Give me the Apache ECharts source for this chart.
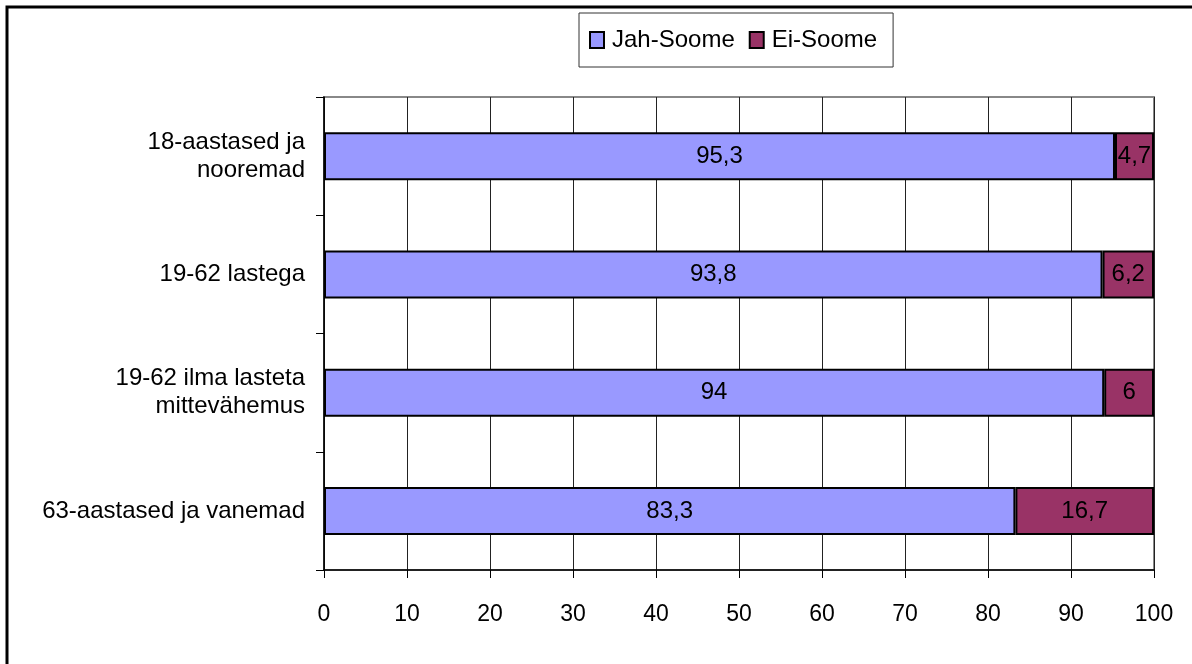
<!DOCTYPE html>
<html>
<head>
<meta charset="utf-8">
<script src="https://cdn.jsdelivr.net/npm/echarts@6/dist/echarts.min.js"></script>
<style>
  html, body { margin: 0; padding: 0; background: #fff; }
  #chart { width: 1192px; height: 664px; }
</style>
</head>
<body>
<div id="chart"></div>
<script>
// categories listed bottom to top
var categories = [
  "63-aastased ja vanemad",
  "19-62 ilma lasteta\nmittevähemus",
  "19-62 lastega",
  "18-aastased ja\nnooremad"
];
var jahSoome = [83.3, 94, 93.8, 95.3];
var eiSoome = [16.7, 6, 6.2, 4.7];
var seriesNames = ["Jah-Soome", "Ei-Soome"];

var myChart = echarts.init(document.getElementById("chart"));

// decimal comma, as in the original
var fmt = function (p) {
  return String(p.value).replace(".", ",");
};

var option = {
  backgroundColor: "#fff",
  textStyle: { fontFamily: "Liberation Sans, Arial, sans-serif" },
  graphic: [
    {
      type: "rect",
      shape: { x: 7, y: 7, width: 1200, height: 700 },
      style: { fill: "none", stroke: "#000", lineWidth: 3 },
      z: 100
    }
  ],
  legend: {
    left: 579,
    top: 13,
    padding: [15, 16, 15, 10],
    icon: "rect",
    itemWidth: 14,
    itemHeight: 16,
    itemGap: 14,
    borderColor: "#333",
    borderWidth: 1,
    textStyle: { fontSize: 24, color: "#000", padding: [0, 0, 0, 3] },
    data: seriesNames
  },
  grid: {
    left: 324,
    right: 38,
    top: 97,
    bottom: 94,
    show: true,
    borderColor: "#888",
    borderWidth: 2
  },
  xAxis: {
    type: "value",
    min: 0,
    max: 100,
    interval: 10,
    axisLine: { show: true, lineStyle: { color: "#000", width: 1.5 } },
    axisTick: { show: true, length: 8, lineStyle: { color: "#000" } },
    axisLabel: { fontSize: 23, color: "#000", margin: 33 },
    splitLine: { show: true, lineStyle: { color: "#222", width: 1 } }
  },
  yAxis: {
    type: "category",
    data: categories,
    axisLine: { show: true, lineStyle: { color: "#000", width: 1.5 } },
    axisTick: { show: true, length: 8, lineStyle: { color: "#000" } },
    axisLabel: { fontSize: 24, color: "#000", margin: 19, align: "right", lineHeight: 28 },
    splitLine: { show: false }
  },
  series: [
    {
      name: seriesNames[0],
      type: "bar",
      stack: "total",
      barWidth: 48,
      data: jahSoome,
      itemStyle: { color: "#9999FF", borderColor: "#000", borderWidth: 2 },
      label: { show: true, position: "inside", color: "#000", fontSize: 24, formatter: fmt }
    },
    {
      name: seriesNames[1],
      type: "bar",
      stack: "total",
      barWidth: 48,
      data: eiSoome,
      itemStyle: { color: "#993366", borderColor: "#000", borderWidth: 2 },
      label: { show: true, position: "inside", color: "#000", fontSize: 24, formatter: fmt }
    }
  ]
};

myChart.setOption(option);
window.addEventListener("resize", function () {
  myChart.resize();
});
</script>
</body>
</html>
